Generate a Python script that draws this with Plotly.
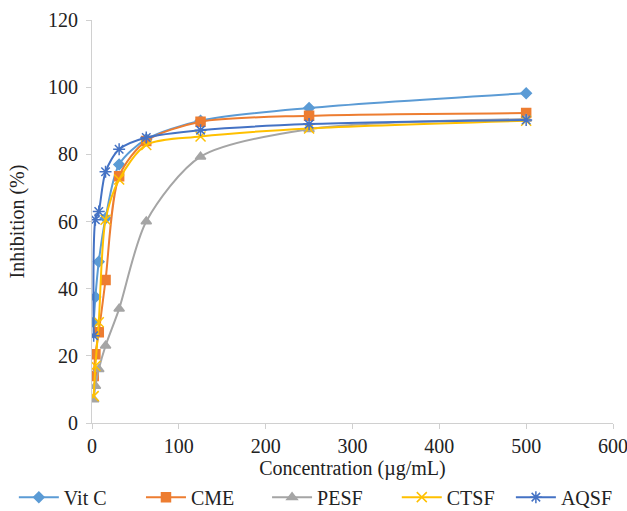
import plotly.graph_objects as go

conc = [1.95, 3.9, 7.8, 15.6, 31.25, 62.5, 125, 250, 500]

vit_c = [30, 37.5, 48, 61, 77, 84.5, 90, 93.8, 98.2]
cme = [14, 20.5, 27, 42.6, 73.5, 84, 89.7, 91.5, 92.3]
pesf = [7, 11, 16, 23, 34, 60, 79.3, 87.5, 90.5]
ctsf = [8, 17, 30, 60.5, 72.5, 82.8, 85.3, 87.7, 90]
aqsf = [26, 60.5, 63, 74.8, 81.5, 85, 87.2, 89, 90.2]

names = ["Vit C", "CME", "PESF", "CTSF", "AQSF"]
series = [vit_c, cme, pesf, ctsf, aqsf]
colors = ["#5B9BD5", "#ED7D31", "#A5A5A5", "#FFC000", "#4472C4"]
symbols = ["diamond", "square", "triangle-up", "x-thin-open", "asterisk-open"]
sizes = [8, 9, 9, 10, 10]
legend_x = [-0.150, 0.094, 0.336, 0.585, 0.804]

SERIF = "Liberation Serif, Times New Roman, serif"
FS = 20

fig = go.Figure()
for i, (n, s, c, sym, sz) in enumerate(zip(names, series, colors, symbols, sizes)):
    fig.add_trace(go.Scatter(
        x=conc, y=s, name=n, mode="lines+markers",
        legend="legend" if i == 0 else f"legend{i+1}",
        line=dict(color=c, width=2, shape="spline", smoothing=0.8),
        marker=dict(symbol=sym, size=sz, color=c, line=dict(color=c, width=1.5)),
    ))

axis_common = dict(
    showgrid=False, zeroline=False, showline=True, linecolor="#D0D0D0", linewidth=1,
    ticks="outside", tickcolor="#D0D0D0", ticklen=5,
    tickfont=dict(family=SERIF, size=FS, color="#222"),
    ticklabeloverflow="allow",
)

legends = {}
for i, lx in enumerate(legend_x):
    key = "legend" if i == 0 else f"legend{i+1}"
    legends[key] = dict(orientation="h", x=lx, xanchor="left", y=-0.184, yanchor="middle",
                        font=dict(family=SERIF, size=FS, color="#222"), itemwidth=40,
                        bgcolor="rgba(0,0,0,0)")

fig.update_layout(
    width=627, height=511,
    margin=dict(l=92, r=14, t=20, b=88, autoexpand=False),
    paper_bgcolor="white", plot_bgcolor="white",
    font=dict(family=SERIF, size=FS, color="#222"),
    xaxis=dict(range=[0, 600], dtick=100,
               title=dict(text="Concentration (µg/mL)", font=dict(family=SERIF, size=FS), standoff=0),
               **axis_common),
    yaxis=dict(range=[0, 120], dtick=20, ticklabelstandoff=4,
               title=dict(text="Inhibition (%)", font=dict(family=SERIF, size=FS), standoff=18),
               **axis_common),
    showlegend=True,
    **legends,
)

fig.write_html(
    "out.html",
    config={"displayModeBar": False},
    post_script="document.body.style.margin='0';document.documentElement.style.overflow='hidden';",
)
